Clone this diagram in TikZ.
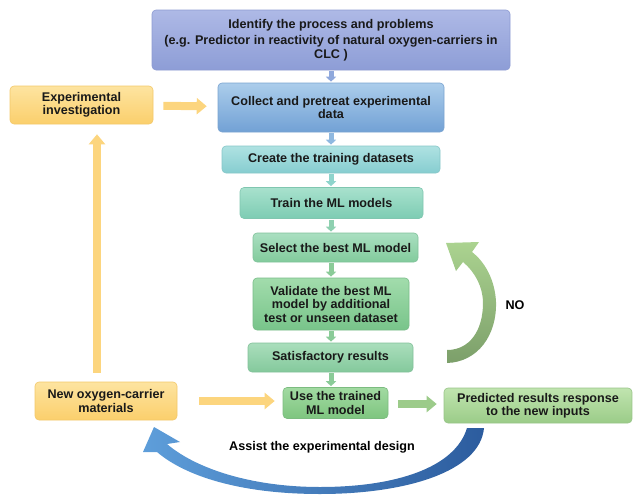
\documentclass[tikz,border=0pt]{standalone}
\usepackage{fontspec}
\setmainfont{Liberation Sans}
\usetikzlibrary{arrows.meta}
\definecolor{identL}{HTML}{8D9BD2}\definecolor{identA}{HTML}{AEB9E6}\definecolor{identB}{HTML}{8D9DD6}
\definecolor{collectL}{HTML}{7AA3D0}\definecolor{collectA}{HTML}{ABCDEB}\definecolor{collectB}{HTML}{72A1D5}
\definecolor{createL}{HTML}{86C6C8}\definecolor{createA}{HTML}{AFE2E2}\definecolor{createB}{HTML}{86CDD0}
\definecolor{trainL}{HTML}{80C6B0}\definecolor{trainA}{HTML}{A8E1CD}\definecolor{trainB}{HTML}{7DCCB3}
\definecolor{selectL}{HTML}{80C29A}\definecolor{selectA}{HTML}{AADFC1}\definecolor{selectB}{HTML}{82CB9C}
\definecolor{validL}{HTML}{78BC88}\definecolor{validA}{HTML}{A2DCAC}\definecolor{validB}{HTML}{78C48A}
\definecolor{satisL}{HTML}{82C09A}\definecolor{satisA}{HTML}{AADEBC}\definecolor{satisB}{HTML}{84C99C}
\definecolor{useL}{HTML}{7CBC80}\definecolor{useA}{HTML}{A2DAA2}\definecolor{useB}{HTML}{7EC57F}
\definecolor{predL}{HTML}{98C488}\definecolor{predA}{HTML}{C0E4AF}\definecolor{predB}{HTML}{9BCC88}
\definecolor{orangeL}{HTML}{F3C86A}\definecolor{orangeA}{HTML}{FDE4A0}\definecolor{orangeB}{HTML}{FBCF6C}
\definecolor{orangeArr}{HTML}{FCD57E}
\definecolor{greenArr}{HTML}{9CCB8A}
\definecolor{blueA}{HTML}{5E9EDA}
\definecolor{blueB}{HTML}{2C5C9E}
\definecolor{noA}{HTML}{ABD390}
\definecolor{noB}{HTML}{7C9F6A}
\definecolor{arrI}{HTML}{8FA8DC}\definecolor{arrC}{HTML}{8FB8E0}\definecolor{arrT}{HTML}{8ED4CC}
\definecolor{arrS}{HTML}{8ED0B0}\definecolor{arrG}{HTML}{8ACB98}
\tikzset{
  stage/.style={draw=#1L,top color=#1A,bottom color=#1B,rounded corners=4pt,
    align=center,inner sep=0pt,line width=0.6pt,text=black!90,
    font=\bfseries\fontsize{12.6}{13.5}\selectfont},
  smallarr/.style={line width=5pt,-{Triangle[width=10pt,length=5pt]},shorten <=1pt,shorten >=1pt},
  bigarr/.style={line width=8pt,-{Triangle[width=16pt,length=10pt]},draw=#1}
}
\begin{document}
\begin{tikzpicture}[x=1pt,y=-1pt]
\useasboundingbox (0,0) rectangle (633,496);
% column of steps
\node[stage=ident,minimum width=358pt,minimum height=60pt] (ident) at (331,40)
  {Identify the process and problems\\[3pt](e.g. Predictor in reactivity of natural oxygen-carriers in\\CLC )};
\node[stage=collect,minimum width=226pt,minimum height=49pt] (collect) at (331,107.5)
  {Collect and pretreat experimental\\data};
\node[stage=create,minimum width=218pt,minimum height=27pt] (create) at (331,159.5)
  {Create the training datasets};
\node[stage=train,minimum width=183pt,minimum height=31pt] (train) at (331.5,203)
  {Train the ML models};
\node[stage=select,minimum width=165pt,minimum height=29pt] (select) at (335.5,247.5)
  {Select the best ML model};
\node[stage=valid,minimum width=156pt,minimum height=52pt] (valid) at (331,304)
  {Validate the best ML\\model by additional\\test or unseen dataset};
\node[stage=satis,minimum width=165pt,minimum height=29pt] (satis) at (330.5,357.5)
  {Satisfactory results};
\node[stage=use,minimum width=105pt,minimum height=31pt] (use) at (335.5,403)
  {Use the trained\\ML model};
\node[stage=pred,minimum width=188pt,minimum height=35pt] (pred) at (538,405.5)
  {Predicted results response\\to the new inputs};
% experimental side
\node[stage=orange,minimum width=143pt,minimum height=38pt] (expinv) at (81.5,105)
  {Experimental\\investigation};
\node[stage=orange,minimum width=142pt,minimum height=38pt] (newox) at (106,401)
  {New oxygen-carrier\\materials};
\foreach \a/\b/\c in {ident/collect/arrI,collect/create/arrC,create/train/arrT,train/select/arrS,
  select/valid/arrG,valid/satis/arrG,satis/use/arrG} {
  \draw[smallarr,draw=\c] (\a.south -| collect.south) -- (\b.north -| collect.south);
}
\draw[bigarr=orangeArr,shorten <=10pt,shorten >=11pt] (expinv) -- (collect);
\draw[bigarr=orangeArr,shorten <=22pt,shorten >=8pt] (newox) -- (newox -| use.west);
\draw[bigarr=orangeArr,shorten <=9pt,shorten >=10pt] (newox.north -| 97,0) -- (expinv.south -| 97,0);
\draw[bigarr=greenArr,shorten <=10pt,shorten >=7pt] (use.east |- 0,404) -- (pred.west |- 0,404);
% curved arrows
\shade[top color=noA,bottom color=noB] (447,363) .. controls (478,362) and (497,335) .. (496,302)
  .. controls (495,280) and (485,262) .. (472,252) -- (479,242) -- (446,243) -- (456,271) -- (463,262)
  .. controls (475,272) and (483,287) .. (483,303) .. controls (483,330) and (470,350) .. (447,350) -- cycle;
\node[font=\bfseries\fontsize{12.6}{13.5}\selectfont] (no) at (515,305) {NO};
\shade[left color=blueA,right color=blueB] (467,428) -- (484,428) .. controls (480,472) and (405,494) .. (320,494)
  .. controls (240,494) and (185,476) .. (157,452) -- (143,452) -- (154,427) -- (180,442) -- (167,444)
  .. controls (195,468) and (250,487) .. (320,487) .. controls (395,487) and (455,468) .. (467,428) -- cycle;
\node[font=\bfseries\fontsize{12.6}{13.5}\selectfont] (assist) at (322,447) {Assist the experimental design};
\end{tikzpicture}
\end{document}
